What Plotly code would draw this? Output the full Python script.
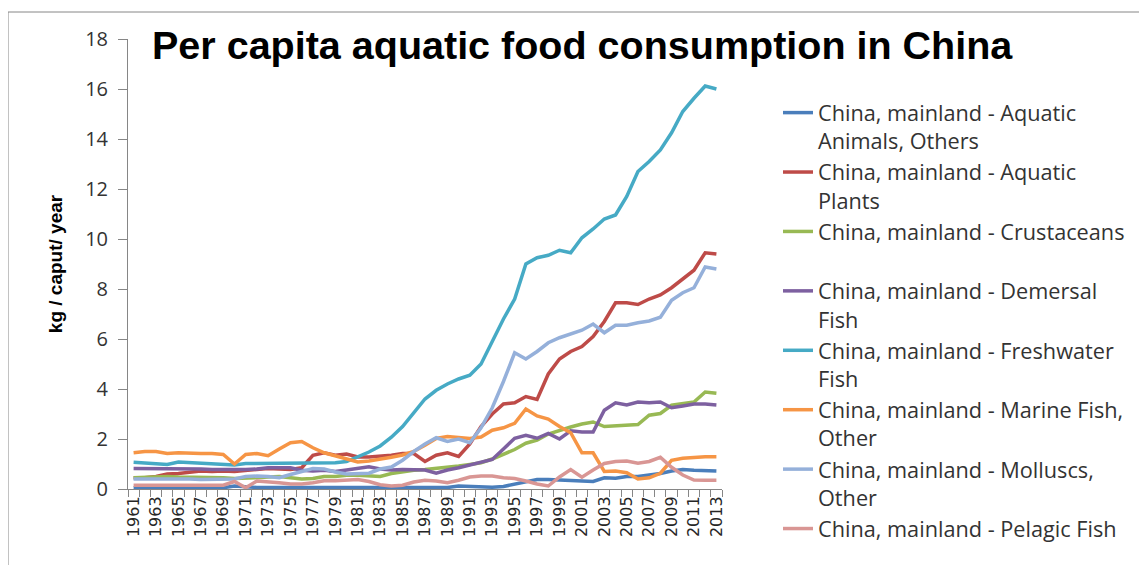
import plotly.graph_objects as go

years = list(range(1961, 2014))

aquatic_animals = [0.05,0.05,0.05,0.05,0.05,0.05,0.05,0.05,0.05,0.12,0.08,0.06,0.06,0.06,0.06,0.06,0.06,0.06,0.06,0.06,
                   0.06,0.06,0.06,0.06,0.06,0.06,0.06,0.06,0.06,0.12,0.1,0.07,0.07,0.1,0.2,0.3,0.38,0.38,0.35,0.33,
                   0.32,0.3,0.45,0.43,0.5,0.5,0.56,0.62,0.72,0.78,0.75,0.72,0.72]
aquatic_plants = [0.45,0.45,0.5,0.6,0.62,0.68,0.72,0.7,0.72,0.7,0.75,0.8,0.82,0.8,0.78,0.85,1.35,1.45,1.35,1.4,
                  1.28,1.28,1.3,1.35,1.42,1.42,1.1,1.35,1.45,1.3,1.8,2.5,3.0,3.4,3.45,3.7,3.58,4.6,5.2,5.5,
                  5.7,6.1,6.7,7.45,7.45,7.38,7.6,7.76,8.05,8.4,8.75,9.45,9.4]
crustaceans = [0.45,0.47,0.5,0.5,0.48,0.48,0.45,0.45,0.45,0.42,0.42,0.45,0.48,0.5,0.45,0.4,0.42,0.5,0.5,0.55,
               0.55,0.52,0.5,0.62,0.7,0.75,0.78,0.82,0.87,0.92,0.98,1.05,1.2,1.4,1.58,1.83,1.96,2.2,2.35,2.48,
               2.6,2.68,2.5,2.52,2.56,2.58,2.95,3.02,3.35,3.4,3.48,3.88,3.83]
demersal = [0.82,0.82,0.82,0.8,0.8,0.82,0.8,0.78,0.78,0.75,0.78,0.8,0.85,0.85,0.85,0.75,0.72,0.75,0.7,0.76,
            0.83,0.89,0.8,0.76,0.78,0.78,0.76,0.63,0.76,0.85,0.96,1.1,1.18,1.6,2.03,2.15,2.03,2.22,2.0,2.33,
            2.28,2.28,3.15,3.45,3.36,3.48,3.45,3.48,3.25,3.32,3.4,3.4,3.36]
freshwater = [1.07,1.05,1.02,0.98,1.08,1.05,1.03,1.0,0.98,0.96,1.02,1.02,1.03,1.03,1.03,1.03,1.05,1.05,1.05,1.1,
              1.28,1.48,1.72,2.07,2.5,3.05,3.6,3.95,4.2,4.4,4.55,5.0,5.9,6.8,7.6,9.0,9.25,9.35,9.55,9.45,
              10.05,10.4,10.8,10.96,11.7,12.7,13.1,13.56,14.25,15.1,15.63,16.12,16.0]
marine_other = [1.45,1.5,1.5,1.42,1.45,1.42,1.42,1.42,1.38,1.0,1.38,1.42,1.33,1.6,1.85,1.9,1.65,1.45,1.32,1.18,
                1.08,1.12,1.18,1.27,1.36,1.5,1.75,2.02,2.1,2.06,2.02,2.08,2.35,2.45,2.63,3.2,2.92,2.8,2.5,2.25,
                1.45,1.45,0.7,0.72,0.65,0.4,0.45,0.63,1.15,1.23,1.27,1.29,1.29]
molluscs = [0.4,0.4,0.42,0.4,0.4,0.4,0.38,0.38,0.38,0.4,0.5,0.52,0.5,0.45,0.58,0.7,0.82,0.8,0.68,0.6,
            0.6,0.63,0.8,0.88,1.15,1.5,1.8,2.05,1.9,2.0,1.85,2.45,3.25,4.3,5.45,5.2,5.5,5.85,6.05,6.2,
            6.35,6.6,6.25,6.55,6.55,6.65,6.72,6.87,7.55,7.85,8.05,8.88,8.8]
pelagic = [0.15,0.15,0.15,0.15,0.15,0.15,0.15,0.15,0.15,0.3,0.05,0.32,0.3,0.25,0.2,0.2,0.25,0.33,0.33,0.35,
           0.38,0.3,0.17,0.12,0.15,0.28,0.35,0.32,0.25,0.35,0.48,0.52,0.52,0.45,0.42,0.32,0.2,0.12,0.48,0.78,
           0.47,0.76,1.02,1.1,1.12,1.03,1.1,1.27,0.87,0.56,0.36,0.35,0.35]

series_names = [
    "China, mainland - Aquatic<br>Animals, Others",
    "China, mainland - Aquatic<br>Plants",
    "China, mainland - Crustaceans<br>&nbsp;",
    "China, mainland - Demersal<br>Fish",
    "China, mainland - Freshwater<br>Fish",
    "China, mainland - Marine Fish,<br>Other",
    "China, mainland - Molluscs,<br>Other",
    "China, mainland - Pelagic Fish",
]
series_values = [aquatic_animals, aquatic_plants, crustaceans, demersal,
                 freshwater, marine_other, molluscs, pelagic]
colors = ["#4A7EBB", "#BE4B48", "#98B954", "#7D60A0",
          "#46AAC5", "#F69545", "#95B0DA", "#D99694"]

x_labels = [str(y) for y in years[::2]]

fig = go.Figure()
for name, vals, c in zip(series_names, series_values, colors):
    fig.add_trace(go.Scatter(x=years, y=vals, mode="lines", name=name,
                             line=dict(color=c, width=3.5)))

# page has an 8px body margin; figure coordinates = page coordinates - 8
W, H = 1139, 557
L, T = 120, 31
pw, ph = 594, 450
R, B = W - L - pw, H - T - ph

def px_x(p):
    return (p - L) / pw

def px_y(p):
    return (T + ph - p) / ph

fig.update_layout(
    width=W, height=H,
    margin=dict(l=L, r=R, t=T, b=B, pad=0, autoexpand=False),
    plot_bgcolor="white", paper_bgcolor="white",
    title=dict(text="<b>Per capita aquatic food consumption in China</b>",
               x=144 / W, xanchor="left", y=1 - 37 / H, yanchor="middle",
               font=dict(family="Liberation Sans", size=39.5, color="black")),
    legend=dict(xref="container", yref="container",
                x=770 / W, y=1 - 84 / H, xanchor="left", yanchor="top",
                maxheight=900,
                font=dict(family="Open Sans", size=21.7, color="#333333"),
                valign="top", tracegroupgap=0, bgcolor="rgba(0,0,0,0)"),
    showlegend=True,
    shapes=[dict(type="rect", xref="paper", yref="paper",
                 x0=px_x(0), x1=px_x(1132), y0=px_y(600), y1=px_y(4),
                 line=dict(color="#868686", width=1), layer="below")],
)
fig.update_xaxes(
    range=[1960.5, 2013.5], tickmode="array", automargin=False,
    tickvals=years[::2], ticktext=x_labels, tickangle=-90,
    ticks="", showline=True, linecolor="#868686", linewidth=1,
    showgrid=False, zeroline=False,
    tickfont=dict(family="DejaVu Sans", size=16, color="#262626"),
    minor=dict(tickvals=[y - 0.5 for y in years] + [2013.5], ticks="outside",
               ticklen=7, tickcolor="#868686", showgrid=False),
)
fig.update_yaxes(
    range=[0, 18], dtick=2, tick0=0, ticks="outside", ticklen=9, automargin=False,
    tickcolor="#868686", showline=True, linecolor="#868686", linewidth=1,
    showgrid=False, zeroline=False, ticklabelstandoff=6,
    tickfont=dict(family="Open Sans", size=20, color="#333333"),
    title=dict(text="<b>kg / caput/ year</b>", standoff=17,
               font=dict(family="Liberation Sans", size=19, color="black")),
)

fig.write_html("out.html")
